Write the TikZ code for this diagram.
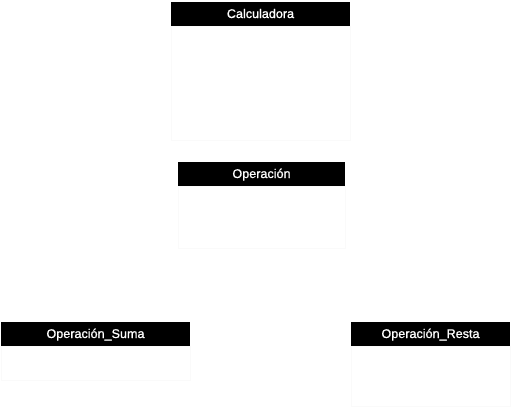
\documentclass[tikz,border=0pt]{standalone}
\usepackage{fontspec}
\setmainfont{Liberation Sans}
\newfontfamily\headfont[FakeBold=1]{Liberation Sans}
\tikzset{
    header/.style={rectangle, fill=black, text=white, inner sep=0pt, minimum height=24pt,
        text height=9pt, text depth=0pt, font=\headfont\fontsize{12.6}{14}\selectfont},
    body/.style={rectangle, draw=black!2, inner sep=0pt}
}

\begin{document}
\begin{tikzpicture}[x=1pt, y=-1pt]
    \useasboundingbox (0,0) rectangle (511,410);
    \node (A) [header, minimum width=179pt] at (260.5, 13.5) {Calculadora};
    \node (B) [header, minimum width=167pt] at (261.5, 173.5) {Operación};
    \node (C) [header, minimum width=189pt] at (95.5, 333.5) {Operación\_Suma};
    \node (D) [header, minimum width=159pt] at (430.5, 333.5) {Operación\_Resta};
    \node (A1) [body, minimum width=179pt, minimum height=114pt, anchor=north] at (A.south) {};
    \node (B1) [body, minimum width=167pt, minimum height=62pt, anchor=north] at (B.south) {};
    \node (C1) [body, minimum width=189pt, minimum height=34pt, anchor=north] at (C.south) {};
    \node (D1) [body, minimum width=159pt, minimum height=60pt, anchor=north] at (D.south) {};
\end{tikzpicture}
\end{document}
